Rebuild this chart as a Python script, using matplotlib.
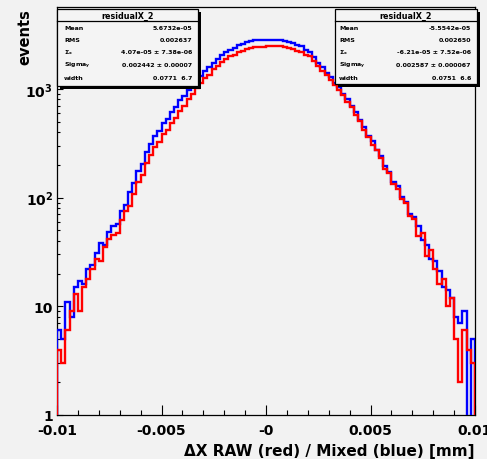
import numpy as np
import matplotlib
matplotlib.use('Agg')
import matplotlib.pyplot as plt
from matplotlib.patches import Rectangle
from matplotlib.lines import Line2D
from matplotlib.ticker import FixedLocator, FixedFormatter, MultipleLocator, LogLocator, NullFormatter

# ---------------- data ----------------
x_min, x_max, n_bins = -0.01, 0.01, 100

blue_counts = [6, 5, 11, 8, 15, 17, 16, 22, 24, 31,
               38, 37, 48, 55, 57, 76, 86, 113, 135, 174,
               205, 262, 312, 368, 410, 480, 530, 618, 685, 783,
               865, 975, 1060, 1195, 1310, 1452, 1575, 1745, 1890, 2055,
               2170, 2300, 2380, 2530, 2610, 2705, 2740, 2800, 2790, 2835,
               2810, 2840, 2800, 2790, 2770, 2680, 2645, 2525, 2470, 2300,
               2195, 1960, 1725, 1580, 1400, 1285, 1140, 1030, 905, 812,
               700, 615, 520, 448, 365, 330, 276, 242, 195, 173,
               140, 127, 101, 92, 70, 66, 55, 41, 37, 27,
               26, 21, 15, 14, 12, 8, 7, 9, 0, 5]

red_counts = [4, 3, 6, 9, 13, 9, 15, 18, 22, 27,
              26, 35, 42, 45, 47, 62, 75, 84, 108, 138,
              160, 210, 246, 293, 326, 384, 420, 490, 543, 625,
              700, 812, 895, 1020, 1128, 1255, 1352, 1510, 1630, 1770,
              1870, 1990, 2050, 2180, 2250, 2330, 2360, 2415, 2410, 2440,
              2460, 2490, 2470, 2465, 2440, 2380, 2330, 2225, 2175, 2050,
              1985, 1790, 1635, 1450, 1330, 1195, 1090, 970, 880, 760,
              682, 575, 508, 418, 360, 302, 274, 230, 184, 167,
              132, 121, 96, 90, 68, 64, 44, 47, 29, 33,
              22, 16, 18, 10, 12, 5, 2, 6, 4, 3]

xtick_vals = [-0.01, -0.005, 0.0, 0.005, 0.01]
xtick_labels = ['-0.01', '-0.005', '-0', '0.005', '0.01']
ytick_vals = [1, 10, 100, 1000]
ytick_labels = ['1', '10', r'$\mathbf{10^{2}}$', r'$\mathbf{10^{3}}$']
x_label = 'ΔX RAW (red) / Mixed (blue) [mm]'
y_label = 'events'

left_title = 'residualX_2'
left_rows = [('Mean', '5.6732e-05'), ('RMS', '0.002637'),
             (r'$\Sigma_x$', '4.07e-05 ± 7.38e-06'),
             (r'Sigma$_y$', '0.002442 ± 0.00007'),
             ('width', '0.0771  6.7')]
right_title = 'residualX_2'
right_rows = [('Mean', '-5.5542e-05'), ('RMS', '0.002650'),
              (r'$\Sigma_x$', '-6.21e-05 ± 7.52e-06'),
              (r'Sigma$_y$', '0.002587 ± 0.000067'),
              ('width', '0.0751  6.6')]

# ---------------- style ----------------
W, H = 487, 460
BG = '#f2f2f2'
plt.rcParams['font.family'] = ['DejaVu Sans']
plt.rcParams['font.weight'] = 'bold'
plt.rcParams['mathtext.fontset'] = 'dejavusans'
plt.rcParams['mathtext.default'] = 'bf'

fig = plt.figure(figsize=(W / 100, H / 100), dpi=100, facecolor=BG)

def fx(px):
    return px / W

def fy(py):
    return 1 - py / H

ax = fig.add_axes([fx(57), fy(416), fx(475) - fx(57), fy(8) - fy(416)])
ax.set_facecolor(BG)

edges = np.linspace(x_min, x_max, n_bins + 1)
bvals = np.clip(np.array(blue_counts, float), 1e-3, None)
rvals = np.clip(np.array(red_counts, float), 1e-3, None)
ax.stairs(bvals, edges, baseline=1e-3, color='#0000ff', lw=1.7, zorder=3)
ax.stairs(rvals, edges, baseline=1e-3, color='#ff0000', lw=1.7, zorder=4)

ax.set_yscale('log')
ax.set_xlim(x_min, x_max)
ax.set_ylim(1, 5660)

ax.xaxis.set_major_locator(FixedLocator(xtick_vals))
ax.xaxis.set_major_formatter(FixedFormatter(xtick_labels))
ax.xaxis.set_minor_locator(MultipleLocator(0.001))
ax.yaxis.set_major_locator(FixedLocator(ytick_vals))
ax.yaxis.set_major_formatter(FixedFormatter(ytick_labels))
ax.yaxis.set_minor_locator(LogLocator(base=10, subs=np.arange(2, 10)))
ax.yaxis.set_minor_formatter(NullFormatter())

ax.tick_params(axis='x', which='major', direction='in', length=7, width=0.8,
               labelsize=10, pad=6, top=False)
ax.tick_params(axis='x', which='minor', direction='in', length=3.5, width=0.8, top=False)
ax.tick_params(axis='y', which='major', direction='in', length=4, width=0.8,
               labelsize=10, pad=3, right=False)
ax.tick_params(axis='y', which='minor', direction='in', length=2.2, width=0.8, right=False)
for lab in ax.get_xticklabels() + ax.get_yticklabels():
    lab.set_fontweight('bold')
for sp in ax.spines.values():
    sp.set_linewidth(0.9)

fig.text(fx(475), fy(452), x_label, ha='right', va='center', fontsize=11, fontweight='bold')
fig.text(fx(25), fy(9), y_label, ha='center', va='top', rotation=90, fontsize=10.5, fontweight='bold')

def stat_box(x0, y0, x1, y1, title, rows, lab_x, val_x):
    sh = Rectangle((fx(x0 + 3), fy(y1 + 3)), fx(x1) - fx(x0), fy(y0) - fy(y1),
                   transform=fig.transFigure, facecolor='black', edgecolor='none', zorder=10)
    bx = Rectangle((fx(x0), fy(y1)), fx(x1) - fx(x0), fy(y0) - fy(y1),
                   transform=fig.transFigure, facecolor='#f4f4f4', edgecolor='black', lw=0.9, zorder=11)
    fig.add_artist(sh)
    fig.add_artist(bx)
    fig.add_artist(Line2D([fx(x0), fx(x1)], [fy(y0 + 12), fy(y0 + 12)],
                          transform=fig.transFigure, color='black', lw=0.9, zorder=12))
    fig.text(fx((x0 + x1) / 2), fy(y0 + 6.5), title, ha='center', va='center',
             fontsize=5.8, fontweight='bold', zorder=13)
    for k, (lab, val) in enumerate(rows):
        yy = fy(28 + 12.5 * k)
        fig.text(fx(lab_x), yy, lab, ha='left', va='center', fontsize=4.5, zorder=13)
        fig.text(fx(val_x), yy, val, ha='right', va='center', fontsize=4.5, zorder=13)

stat_box(57, 10, 198, 87, left_title, left_rows, 64, 192)
stat_box(335, 10, 477, 85, right_title, right_rows, 339, 471)

fig.savefig('out.png', dpi=100, facecolor=BG)
